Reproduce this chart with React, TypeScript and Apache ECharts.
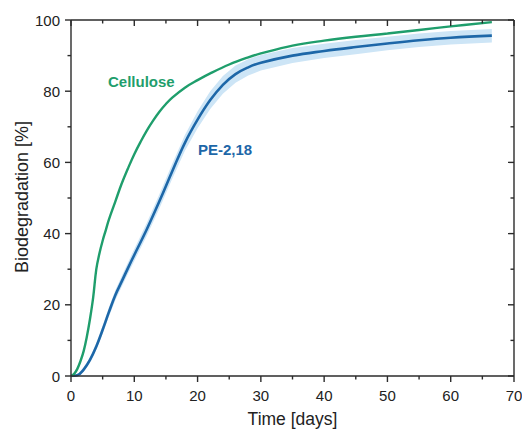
import React, { useEffect, useRef } from "react";
import * as echarts from "echarts";

const celluloseDays = [0, 0.5, 1, 1.5, 2, 2.5, 3, 3.5, 4, 4.5, 5, 5.5, 6, 7, 8, 9, 10, 11, 12, 13, 14, 15, 16, 18, 20, 22, 25, 28, 30, 35, 40, 45, 50, 55, 60, 66.5];
const celluloseValues = [0, 0.6, 2, 4.2, 7, 11, 16, 22, 30, 34.5, 38, 41, 44, 49, 54, 58.3, 62.3, 65.8, 69, 71.8, 74.3, 76.4, 78.2, 81, 83.1, 85, 87.5, 89.5, 90.6, 92.8, 94.2, 95.3, 96.2, 97.2, 98.2, 99.4];

const peDays = [0, 1, 2, 3, 4, 5, 6, 7, 8, 9, 10, 12, 14, 16, 18, 20, 22, 24, 26, 28, 30, 35, 40, 45, 50, 55, 60, 66.5];
const peValues = [0, 0.2, 1.8, 4.5, 8.3, 13, 18, 22.7, 26.5, 30.3, 34, 41.3, 49.2, 57.5, 65.5, 72, 77.5, 81.8, 84.8, 86.7, 88, 90, 91.3, 92.4, 93.4, 94.3, 95, 95.6];
const peErrorHalf = [0, 0.3, 0.6, 0.8, 1, 1.1, 1.3, 1.4, 1.5, 1.6, 1.7, 1.8, 2, 2.1, 2.2, 2.4, 2.5, 2.5, 2.4, 2.3, 2.2, 2.1, 2, 2, 1.9, 1.9, 1.9, 1.9];

const xTicks = [0, 10, 20, 30, 40, 50, 60, 70];
const yTicks = [0, 20, 40, 60, 80, 100];

const GREEN = "#1f9e6c";
const BLUE = "#1d67a8";
const BAND = "#cde5f6";
const AXIS = "#2b2b2b";
const FONT = "Liberation Sans, Arial, sans-serif";

export default function App() {
  const ref = useRef<HTMLDivElement>(null);
  useEffect(() => {
    if (!ref.current) return;
    const chart = echarts.init(ref.current, undefined, { renderer: "svg" });
    const xMinor = xTicks.slice(0, -1).map((v, i) => (v + xTicks[i + 1]) / 2);
    const yMinor = yTicks.slice(0, -1).map((v, i) => (v + yTicks[i + 1]) / 2);
    const xMin = xTicks[0], xMax = xTicks[xTicks.length - 1];
    const yMin = yTicks[0], yMax = yTicks[yTicks.length - 1];
    const MAJ = 6, MIN = 3.5;
    const lineStyle = { stroke: AXIS, lineWidth: 1.4 };
    chart.setOption({
      animation: false,
      grid: { left: 71, right: 8, top: 20, bottom: 54, containLabel: false, outerBoundsMode: "none" },
      xAxis: {
        type: "value",
        min: xMin,
        max: xMax,
        interval: 10,
        axisLine: { show: false },
        splitLine: { show: false },
        axisTick: { show: false },
        axisLabel: { fontFamily: FONT, fontSize: 15, color: "#222", margin: 12 },
        name: "Time [days]",
        nameLocation: "middle",
        nameGap: 34,
        nameTextStyle: { fontFamily: FONT, fontSize: 17.5, color: "#222" },
      },
      yAxis: {
        type: "value",
        min: yMin,
        max: yMax,
        interval: 20,
        axisLine: { show: false },
        splitLine: { show: false },
        axisTick: { show: false },
        axisLabel: { fontFamily: FONT, fontSize: 15, color: "#222", margin: 11 },
      },
      series: [
        {
          type: "custom",
          name: "band",
          data: [0],
          silent: true,
          z: 1,
          renderItem: (params: any, api: any) => {
            const upper = peDays.map((d, i) => api.coord([d, peValues[i] + peErrorHalf[i]]));
            const lower = peDays.map((d, i) => api.coord([d, peValues[i] - peErrorHalf[i]])).reverse();
            return {
              type: "polygon",
              shape: { points: upper.concat(lower) },
              style: { fill: BAND },
            };
          },
        },
        {
          type: "line",
          name: "PE-2,18",
          data: peDays.map((d, i) => [d, peValues[i]]),
          symbol: "none",
          smooth: 0.4,
          lineStyle: { color: BLUE, width: 2.6 },
          z: 3,
        },
        {
          type: "line",
          name: "Cellulose",
          data: celluloseDays.map((d, i) => [d, celluloseValues[i]]),
          symbol: "none",
          smooth: 0.4,
          lineStyle: { color: GREEN, width: 2.4 },
          z: 4,
        },
        {
          type: "custom",
          name: "frame",
          data: [0],
          silent: true,
          clip: false,
          z: 6,
          renderItem: (params: any, api: any) => {
            const [x0, y0] = api.coord([xMin, yMin]);
            const [x1, y1] = api.coord([xMax, yMax]);
            const children: any[] = [
              { type: "line", shape: { x1: x0, y1: y0, x2: x1, y2: y0 }, style: lineStyle },
              { type: "line", shape: { x1: x0, y1: y1, x2: x1, y2: y1 }, style: lineStyle },
              { type: "line", shape: { x1: x0, y1: y0, x2: x0, y2: y1 }, style: lineStyle },
              { type: "line", shape: { x1: x1, y1: y0, x2: x1, y2: y1 }, style: lineStyle },
            ];
            const addX = (v: number, len: number) => {
              const x = api.coord([v, yMin])[0];
              children.push({ type: "line", shape: { x1: x, y1: y0, x2: x, y2: y0 + len }, style: lineStyle });
              children.push({ type: "line", shape: { x1: x, y1: y1, x2: x, y2: y1 + len }, style: lineStyle });
            };
            const addY = (v: number, len: number) => {
              const y = api.coord([xMin, v])[1];
              children.push({ type: "line", shape: { x1: x0 - len, y1: y, x2: x0, y2: y }, style: lineStyle });
              children.push({ type: "line", shape: { x1: x1 - len, y1: y, x2: x1, y2: y }, style: lineStyle });
            };
            xTicks.forEach((v) => addX(v, MAJ));
            xMinor.forEach((v) => addX(v, MIN));
            yTicks.forEach((v) => addY(v, MAJ));
            yMinor.forEach((v) => addY(v, MIN));
            return { type: "group", children };
          },
        },
      ],
      graphic: [
        {
          type: "text",
          x: 22,
          y: 197,
          rotation: Math.PI / 2,
          style: {
            text: "Biodegradation [%]",
            fill: "#222",
            font: "18px " + FONT,
            align: "center",
            verticalAlign: "middle",
          },
        },
        {
          type: "text",
          left: 108,
          top: 74,
          style: { text: "Cellulose", fill: GREEN, font: "bold 15px " + FONT },
        },
        {
          type: "text",
          left: 198,
          top: 142,
          style: { text: "PE-2,18", fill: BLUE, font: "bold 15px " + FONT },
        },
      ],
    });
    return () => chart.dispose();
  }, []);
  return <div ref={ref} style={{ width: 522, height: 430, position: "absolute", left: 0, top: 0, background: "#fff" }} />;
}
